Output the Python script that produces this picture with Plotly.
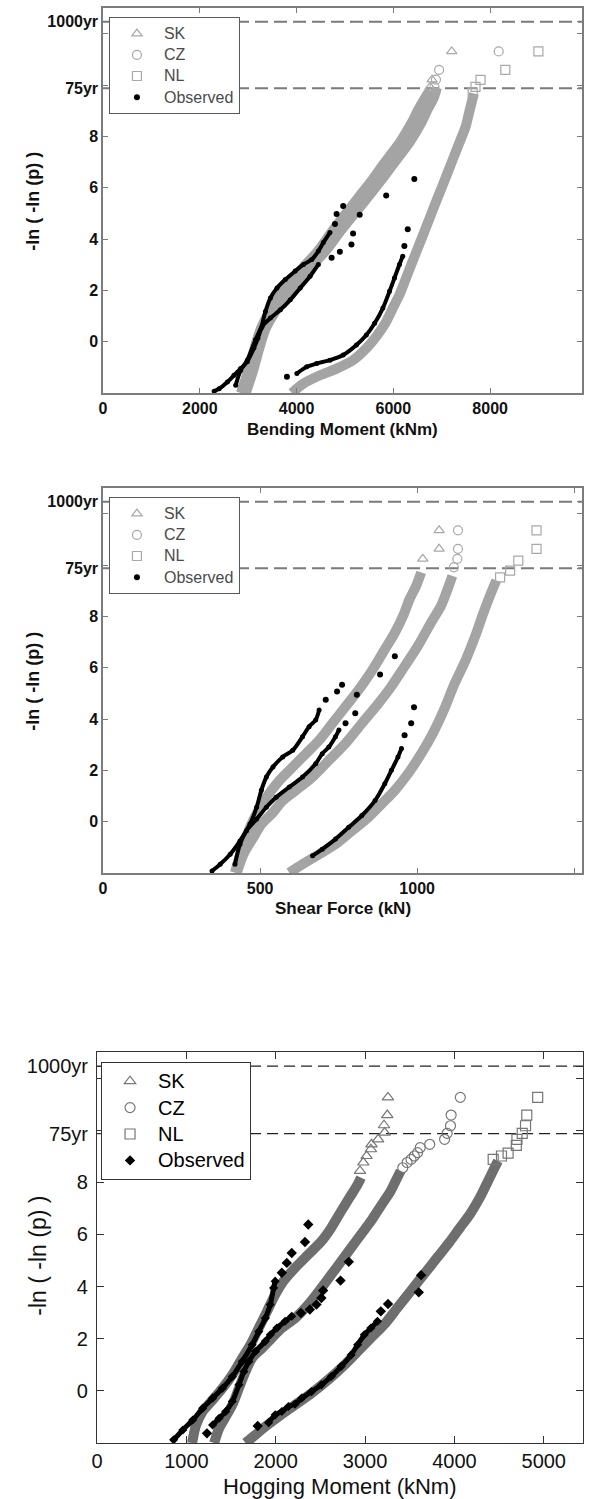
import plotly.graph_objects as go

# ---------------- common y (reduced variate) ticks ----------------
Y_75 = 9.87
Y_1000 = 12.46
Y_TICK_VALS = [0, 2, 4, 6, 8, Y_75, 10, 12, Y_1000]
Y_TICK_TEXT = ["0", "2", "4", "6", "8", "75yr", "", "", "1000yr"]
SERIES_NAMES = ["SK", "CZ", "NL", "Observed"]

# ---------------- Panel 1: Bending Moment (kNm) ----------------
BM_X_TICKS = [0, 2000, 4000, 6000, 8000]
BM_X_RANGE = [0, 9900]
BM_SK_BAND_X = [2850, 2990, 3130, 3260, 3450, 3770, 4130, 4440, 4740, 5010, 5280, 5550, 5750, 5960, 6160, 6370, 6510, 6650, 6760]
BM_SK_BAND_Y = [-2.0, -1.2, -0.26, 0.5, 1.2, 2.09, 2.88, 3.53, 4.31, 4.97, 5.62, 6.27, 6.80, 7.32, 7.84, 8.50, 9.02, 9.48, 9.80]
BM_CZ_BAND_X = [2950, 3090, 3230, 3360, 3570, 3900, 4270, 4600, 4910, 5190, 5470, 5740, 5950, 6160, 6360, 6570, 6700, 6830, 6900]
BM_CZ_BAND_Y = [-2.0, -1.2, -0.26, 0.5, 1.2, 2.09, 2.88, 3.53, 4.31, 4.97, 5.62, 6.27, 6.80, 7.32, 7.84, 8.50, 9.02, 9.48, 9.90]
BM_NL_BAND_X = [3904, 4143, 4485, 4827, 5169, 5442, 5647, 5852, 5989, 6126, 6263, 6399, 6536, 6673, 6809, 6946, 7083, 7220, 7356, 7493, 7561, 7664]
BM_NL_BAND_Y = [-2.0, -1.63, -1.31, -1.05, -0.72, -0.26, 0.20, 0.78, 1.31, 1.83, 2.48, 3.14, 3.79, 4.44, 5.10, 5.75, 6.40, 7.06, 7.71, 8.37, 8.89, 9.67]
BM_SK_TAIL_X = [6760, 6800, 7206]
BM_SK_TAIL_Y = [9.93, 10.21, 11.31]
BM_CZ_TAIL_X = [6850, 6880, 6946, 8177]
BM_CZ_TAIL_Y = [9.93, 10.21, 10.59, 11.31]
BM_NL_TAIL_X = [7640, 7698, 7801, 8314, 8997]
BM_NL_TAIL_Y = [9.70, 9.93, 10.20, 10.59, 11.31]
BM_OBS_A_X = [2297, 2400, 2570, 2707, 2844, 2981, 3117, 3200, 3268, 3357, 3459, 3596, 3767, 3972, 4143, 4314, 4451, 4553, 4690]
BM_OBS_A_Y = [-1.93, -1.83, -1.57, -1.31, -1.05, -0.78, -0.26, 0.13, 0.52, 1.18, 1.70, 2.09, 2.42, 2.75, 3.01, 3.20, 3.53, 3.86, 4.25]
BM_OBS_B_X = [2742, 2844, 2981, 3152, 3288, 3459, 3665, 3870, 4075, 4280, 4451]
BM_OBS_B_Y = [-1.70, -1.12, -0.72, 0.07, 0.59, 0.92, 1.24, 1.63, 2.09, 2.55, 3.01]
BM_OBS_C_X = [4006, 4211, 4416, 4690, 4963, 5237, 5442, 5613, 5784, 5921, 6023, 6126, 6194]
BM_OBS_C_Y = [-1.24, -0.98, -0.85, -0.72, -0.52, -0.13, 0.26, 0.72, 1.31, 1.96, 2.48, 3.01, 3.33]
BM_OBS_SPARSE_X = [4793, 4827, 4963, 4724, 4895, 5134, 5168, 5305, 5852, 3801, 6228, 6297, 6433]
BM_OBS_SPARSE_Y = [4.58, 4.97, 5.29, 3.27, 3.50, 3.79, 4.21, 4.94, 5.69, -1.37, 3.73, 4.38, 6.34]

# ---------------- Panel 2: Shear Force (kN) ----------------
SF_X_TICKS = [0, 500, 1000, 1500]
SF_X_RANGE = [0, 1525]
SF_SK_BAND_X = [420, 441, 468, 494, 520, 562, 604, 646, 688, 730, 772, 814, 855, 897, 929, 955, 976, 997, 1013]
SF_SK_BAND_Y = [-1.99, -1.14, -0.22, 0.43, 0.95, 1.61, 2.13, 2.65, 3.17, 3.83, 4.48, 5.14, 5.86, 6.71, 7.36, 8.01, 8.67, 9.19, 9.71]
SF_CZ_BAND_X = [426, 447, 479, 505, 537, 572, 614, 667, 719, 772, 824, 877, 918, 960, 1002, 1044, 1076, 1097, 1112]
SF_CZ_BAND_Y = [-1.99, -1.27, -0.61, -0.09, 0.30, 0.82, 1.22, 1.74, 2.39, 3.05, 3.83, 4.61, 5.27, 6.05, 6.84, 7.75, 8.41, 9.06, 9.58]
SF_NL_BAND_X = [593, 635, 688, 740, 793, 845, 887, 929, 971, 1013, 1050, 1085, 1120, 1155, 1185, 1210, 1235, 1252]
SF_NL_BAND_Y = [-1.99, -1.66, -1.27, -0.88, -0.35, 0.17, 0.69, 1.22, 1.87, 2.65, 3.44, 4.35, 5.40, 6.31, 7.23, 8.10, 8.90, 9.40]
SF_SK_TAIL_X = [1018, 1070, 1070]
SF_SK_TAIL_Y = [10.24, 10.63, 11.35]
SF_CZ_TAIL_X = [1117, 1128, 1130, 1130]
SF_CZ_TAIL_Y = [9.91, 10.24, 10.63, 11.35]
SF_NL_TAIL_X = [1264, 1296, 1322, 1380, 1380]
SF_NL_TAIL_Y = [9.52, 9.78, 10.17, 10.63, 11.35]
SF_OBS_A_X = [347, 373, 405, 436, 468, 489, 504, 520, 541, 572, 604, 635, 656, 677, 688]
SF_OBS_A_Y = [-1.92, -1.66, -1.27, -0.75, -0.09, 0.56, 1.22, 1.74, 2.13, 2.52, 2.78, 3.31, 3.70, 3.96, 4.35]
SF_OBS_B_X = [420, 436, 457, 489, 520, 551, 593, 635, 677, 698, 719, 740, 751]
SF_OBS_B_Y = [-1.66, -0.88, -0.35, 0.10, 0.56, 0.95, 1.35, 1.74, 2.26, 2.65, 2.91, 3.31, 3.57]
SF_OBS_C_X = [667, 698, 740, 782, 824, 866, 897, 918, 939, 950]
SF_OBS_C_Y = [-1.33, -1.07, -0.68, -0.22, 0.24, 0.82, 1.48, 2.00, 2.52, 2.85]
SF_OBS_SPARSE_X = [709, 745, 761, 772, 803, 808, 882, 929, 960, 981, 990]
SF_OBS_SPARSE_Y = [4.75, 5.07, 5.33, 3.83, 4.22, 4.94, 5.73, 6.44, 3.37, 3.83, 4.46]

# ---------------- Panel 3: Hogging Moment (kNm) ----------------
HM_X_TICKS = [0, 1000, 2000, 3000, 4000, 5000]
HM_X_RANGE = [0, 5440]
HM_SK_BAND_X = [1064, 1108, 1182, 1293, 1403, 1514, 1625, 1717, 1810, 1902, 1994, 2087, 2216, 2364, 2511, 2622, 2733, 2825, 2917, 2954]
HM_SK_BAND_Y = [-2.0, -1.31, -0.79, -0.35, 0.10, 0.62, 1.26, 1.77, 2.41, 3.05, 3.69, 4.21, 4.72, 5.23, 5.74, 6.26, 6.90, 7.41, 7.92, 8.18]
HM_CZ_BAND_X = [1311, 1366, 1440, 1514, 1588, 1662, 1736, 1847, 1957, 2068, 2216, 2364, 2511, 2622, 2733, 2844, 2954, 3065, 3139, 3213, 3287, 3342, 3398]
HM_CZ_BAND_Y = [-2.0, -1.44, -0.99, -0.54, 0.10, 0.74, 1.26, 1.64, 2.03, 2.41, 2.79, 3.31, 3.95, 4.46, 4.97, 5.49, 6.00, 6.51, 6.90, 7.28, 7.67, 8.05, 8.44]
HM_NL_BAND_X = [1662, 1773, 1883, 2031, 2216, 2400, 2585, 2770, 2917, 3065, 3213, 3361, 3508, 3656, 3804, 3952, 4062, 4173, 4284, 4358, 4432, 4487]
HM_NL_BAND_Y = [-2.0, -1.69, -1.37, -0.99, -0.54, -0.09, 0.42, 1.00, 1.51, 2.03, 2.54, 3.18, 3.82, 4.46, 5.10, 5.74, 6.26, 6.77, 7.41, 7.92, 8.44, 8.82]
HM_SK_TAIL_X = [2943, 2980, 3017, 3065, 3072, 3146, 3219, 3212, 3249, 3256]
HM_SK_TAIL_Y = [8.44, 8.76, 9.01, 9.27, 9.46, 9.65, 9.91, 10.19, 10.58, 11.26]
HM_CZ_TAIL_X = [3422, 3470, 3514, 3551, 3588, 3617, 3724, 3890, 3919, 3956, 3963, 4066]
HM_CZ_TAIL_Y = [8.56, 8.76, 8.88, 9.01, 9.14, 9.33, 9.46, 9.65, 9.88, 10.17, 10.58, 11.26]
HM_NL_TAIL_X = [4434, 4527, 4601, 4693, 4700, 4759, 4796, 4810, 4932]
HM_NL_TAIL_Y = [8.88, 9.01, 9.12, 9.42, 9.65, 9.88, 10.17, 10.58, 11.26]
HM_OBS_A_X = [857, 960, 1071, 1182, 1293, 1403, 1514, 1625, 1736, 1810, 1883, 1939, 1976, 1994]
HM_OBS_A_Y = [-1.88, -1.50, -1.12, -0.67, -0.28, 0.10, 0.55, 1.13, 1.77, 2.28, 2.79, 3.31, 3.95, 4.21]
HM_OBS_B_X = [1293, 1366, 1440, 1514, 1588, 1643, 1699, 1773, 1883, 1939, 2013, 2105, 2179]
HM_OBS_B_Y = [-1.31, -1.05, -0.79, -0.41, 0.23, 0.74, 1.13, 1.51, 1.90, 2.15, 2.41, 2.67, 2.86]
HM_OBS_C_X = [1920, 1994, 2068, 2142, 2216, 2290, 2400, 2511, 2622, 2733, 2844, 2917, 2991, 3065, 3139]
HM_OBS_C_Y = [-1.22, -0.92, -0.79, -0.60, -0.51, -0.28, -0.03, 0.23, 0.55, 0.94, 1.38, 1.77, 2.15, 2.41, 2.67]
HM_OBS_SPARSE_X = [2068, 2124, 2179, 2327, 2364, 1230, 2282, 2382, 2456, 2511, 2530, 2725, 2818, 1798, 3176, 3257, 3601, 3627]
HM_OBS_SPARSE_Y = [4.53, 4.91, 5.29, 5.71, 6.38, -1.63, 2.99, 3.12, 3.31, 3.56, 3.85, 4.23, 4.95, -1.35, 3.05, 3.33, 3.78, 4.44]

FONT = "Liberation Sans, Arial, sans-serif"
W, H = 589, 1499

fig = go.Figure()

PANELS = [
    dict(ax="", leg="legend", xr=BM_X_RANGE, xt=BM_X_TICKS,
         bands=[(BM_SK_BAND_X, BM_SK_BAND_Y), (BM_CZ_BAND_X, BM_CZ_BAND_Y), (BM_NL_BAND_X, BM_NL_BAND_Y)],
         tails=[(BM_SK_TAIL_X, BM_SK_TAIL_Y), (BM_CZ_TAIL_X, BM_CZ_TAIL_Y), (BM_NL_TAIL_X, BM_NL_TAIL_Y)],
         obs=[(BM_OBS_A_X, BM_OBS_A_Y), (BM_OBS_B_X, BM_OBS_B_Y), (BM_OBS_C_X, BM_OBS_C_Y)],
         sparse=(BM_OBS_SPARSE_X, BM_OBS_SPARSE_Y), style="old"),
    dict(ax="2", leg="legend2", xr=SF_X_RANGE, xt=SF_X_TICKS,
         bands=[(SF_SK_BAND_X, SF_SK_BAND_Y), (SF_CZ_BAND_X, SF_CZ_BAND_Y), (SF_NL_BAND_X, SF_NL_BAND_Y)],
         tails=[(SF_SK_TAIL_X, SF_SK_TAIL_Y), (SF_CZ_TAIL_X, SF_CZ_TAIL_Y), (SF_NL_TAIL_X, SF_NL_TAIL_Y)],
         obs=[(SF_OBS_A_X, SF_OBS_A_Y), (SF_OBS_B_X, SF_OBS_B_Y), (SF_OBS_C_X, SF_OBS_C_Y)],
         sparse=(SF_OBS_SPARSE_X, SF_OBS_SPARSE_Y), style="old"),
    dict(ax="3", leg="legend3", xr=HM_X_RANGE, xt=HM_X_TICKS,
         bands=[(HM_SK_BAND_X, HM_SK_BAND_Y), (HM_CZ_BAND_X, HM_CZ_BAND_Y), (HM_NL_BAND_X, HM_NL_BAND_Y)],
         tails=[(HM_SK_TAIL_X, HM_SK_TAIL_Y), (HM_CZ_TAIL_X, HM_CZ_TAIL_Y), (HM_NL_TAIL_X, HM_NL_TAIL_Y)],
         obs=[(HM_OBS_A_X, HM_OBS_A_Y), (HM_OBS_B_X, HM_OBS_B_Y), (HM_OBS_C_X, HM_OBS_C_Y)],
         sparse=(HM_OBS_SPARSE_X, HM_OBS_SPARSE_Y), style="new"),
]
SYMBOLS = ["triangle-up-open", "circle-open", "square-open"]


def legend_label(name, old):
    size = 16 if old else 20
    return '<span style="font-size:%dpx">%s</span>' % (size, name)


for p in PANELS:
    xa, ya = "x" + p["ax"], "y" + p["ax"]
    old = p["style"] == "old"
    band_col = "#a4a4a4" if old else "#6e6e6e"
    tail_col = "#a8a8a8" if old else "#767676"
    dash_col = "#7a7a7a" if old else "#222222"
    # return-level dashed lines
    for yv in (Y_75, Y_1000):
        fig.add_trace(go.Scatter(x=p["xr"], y=[yv, yv], mode="lines", xaxis=xa, yaxis=ya,
                                 line=dict(color=dash_col, width=2 if old else 1.3,
                                           dash="13px,6px" if old else "11px,6px"),
                                 showlegend=False, hoverinfo="skip"))
    for bx, by in p["bands"]:
        fig.add_trace(go.Scatter(x=bx, y=by, mode="lines", xaxis=xa, yaxis=ya,
                                 line=dict(color=band_col, width=10, shape="spline", smoothing=0.8),
                                 showlegend=False, hoverinfo="skip"))
    for ox, oy in p["obs"]:
        fig.add_trace(go.Scatter(x=ox, y=oy, mode="lines+markers", xaxis=xa, yaxis=ya,
                                 line=dict(color="black", width=4 if old else 5, shape="spline", smoothing=0.8),
                                 marker=dict(symbol="circle" if old else "diamond", size=5 if old else 7, color="black"),
                                 showlegend=False, hoverinfo="skip"))
    for (tx, ty), sym, name in zip(p["tails"], SYMBOLS, SERIES_NAMES[:3]):
        fig.add_trace(go.Scatter(x=tx, y=ty, mode="markers", name=legend_label(name, old), xaxis=xa, yaxis=ya,
                                 legend=p["leg"],
                                 marker=dict(symbol=sym, size=9 if old else 10, color=tail_col,
                                             line=dict(color=tail_col, width=1.2))))
    fig.add_trace(go.Scatter(x=p["sparse"][0], y=p["sparse"][1], mode="markers",
                             name=legend_label(SERIES_NAMES[3], old),
                             xaxis=xa, yaxis=ya, legend=p["leg"],
                             marker=dict(symbol="circle" if old else "diamond", size=6 if old else 8, color="black")))

# ---------------- layout ----------------
def px_x(v):
    return v / W

def px_y(v):
    return 1 - v / H

boxes = [  # left, right, top, bottom in px
    (98, 582, 8, 393),
    (98, 582, 488, 873),
    (92, 583, 1052, 1443),
]
layout = dict(width=W, height=H, margin=dict(l=0, r=0, t=0, b=0),
              paper_bgcolor="white", plot_bgcolor="white", showlegend=True)

for i, (p, (l, r, t, b)) in enumerate(zip(PANELS, boxes)):
    old = p["style"] == "old"
    suffix = p["ax"]
    axcol = "#7c7c7c" if old else "#333333"
    tfont = dict(family=FONT, size=16 if old else 20, color="#111111",
                 weight="bold" if old else "normal")
    common = dict(showgrid=False, zeroline=False, showline=True, linecolor=axcol,
                  linewidth=1.5 if old else 1.2, mirror="ticks", ticks="inside",
                  ticklen=5 if old else 7, tickcolor=axcol, tickwidth=1,
                  tickfont=tfont)
    layout["xaxis" + suffix] = dict(domain=[px_x(l), px_x(r)], range=p["xr"],
                                    tickvals=p["xt"], ticktext=[str(v) for v in p["xt"]],
                                    anchor="y" + suffix, **common)
    layout["yaxis" + suffix] = dict(domain=[px_y(b), px_y(t)], range=[-2, 13],
                                    tickvals=Y_TICK_VALS, ticktext=Y_TICK_TEXT,
                                    ticklabelstandoff=0 if old else 4,
                                    anchor="x" + suffix, **common)
    if old:
        layout[p["leg"]] = dict(x=px_x(104), y=px_y(17), xanchor="left", yanchor="top",
                                bgcolor="white", bordercolor="#5a5a5a", borderwidth=1,
                                itemwidth=44, font=dict(family=FONT, size=14, color="#4a4a4a"),
                                tracegroupgap=0)
    else:
        layout[p["leg"]] = dict(x=px_x(96), y=px_y(1062), xanchor="left", yanchor="top",
                                bgcolor="white", bordercolor="#333333", borderwidth=1,
                                itemwidth=46, font=dict(family=FONT, size=18, color="#000000"),
                                tracegroupgap=0)

# legend position for panel 2 relative to its box
layout["legend2"]["y"] = px_y(497)

ann = []
titles = ["Bending Moment (kNm)", "Shear Force (kN)", "Hogging Moment (kNm)"]
title_y = [429, 909, 1486]
ytitle_y = [201, 681, 1256]
ytitle_x = [27, 27, 32]
for i, (p, (l, r, t, b)) in enumerate(zip(PANELS, boxes)):
    old = p["style"] == "old"
    f = dict(family=FONT, size=17 if old else 22, color="#111111",
             weight="bold" if old else "normal")
    ann.append(dict(text=titles[i], x=px_x((l + r) / 2), y=px_y(title_y[i]), xref="paper", yref="paper",
                    xanchor="center", yanchor="middle", showarrow=False, font=f))
    ann.append(dict(text="-ln ( -ln (p) )", x=px_x(ytitle_x[i]), y=px_y(ytitle_y[i]), xref="paper",
                    yref="paper", xanchor="center", yanchor="middle", showarrow=False, textangle=-90,
                    font=dict(f, size=18 if old else 23)))
layout["annotations"] = ann

fig.update_layout(**layout)
fig.write_html("out.html", config={"displayModeBar": False},
               post_script="document.body.style.margin='0';document.body.style.overflow='hidden';")
